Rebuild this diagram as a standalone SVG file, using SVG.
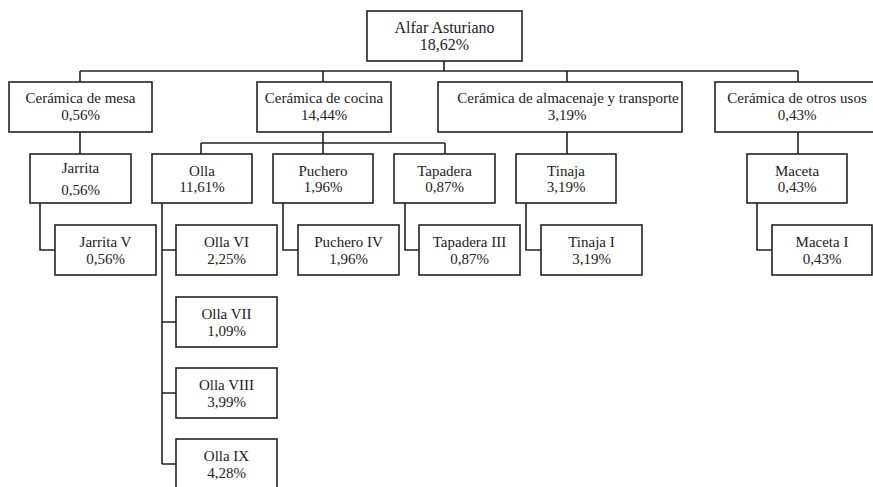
<svg xmlns="http://www.w3.org/2000/svg" width="873" height="487" viewBox="0 0 873 487">
<style>
.b{fill:#fff;stroke:#222;stroke-width:1.6}
.t{font-family:"Liberation Serif","Times New Roman",serif;font-size:15px;fill:#222;text-anchor:middle}
.c{fill:none;stroke:#222;stroke-width:1.6}
</style>
<rect width="873" height="487" fill="#fff"/>
<g id="connectors">
<path class="c" d="M444,61V71M80,71H798M80,71V82M323,71V82M567,71V82M798,71V82"/>
<path class="c" d="M80,132V154M323,132V143M201,143H445M201,143V154M323,143V154M445,143V154M567,132V154M798,132V154"/>
<path class="c" d="M40,203V250H55M162,203V464M162,250H176M162,322H176M162,393H176M162,464H176M283,203V250H298M405,203V250H419M526,203V250H541M757,203V250H772"/>
</g>
<g id="root"><rect class="b" x="367" y="11" width="155" height="50"/><text class="t" x="444.5" y="33" style="font-size:16px">Alfar Asturiano</text><text class="t" x="444.5" y="50" style="font-size:16px">18,62%</text></g>
<g id="mesa"><rect class="b" x="9" y="82" width="143" height="50"/><text class="t" x="80.5" y="103">Cerámica de mesa</text><text class="t" x="80.5" y="120">0,56%</text></g>
<g id="cocina"><rect class="b" x="257" y="82" width="134" height="50"/><text class="t" x="324" y="103">Cerámica de cocina</text><text class="t" x="324" y="120">14,44%</text></g>
<g id="almacenaje"><rect class="b" x="438" y="82" width="244" height="50"/><text class="t" x="568" y="103">Cerámica de almacenaje y transporte</text><text class="t" x="567" y="120">3,19%</text></g>
<g id="otros"><rect class="b" x="715" y="82" width="170" height="50"/><text class="t" x="797" y="103">Cerámica de otros usos</text><text class="t" x="797" y="120">0,43%</text></g>
<g id="jarrita"><rect class="b" x="30" y="154" width="101" height="49"/><text class="t" x="80.5" y="173">Jarrita</text><text class="t" x="80.5" y="195">0,56%</text></g>
<g id="olla"><rect class="b" x="152" y="154" width="100" height="49"/><text class="t" x="202" y="176">Olla</text><text class="t" x="202" y="192">11,61%</text></g>
<g id="puchero"><rect class="b" x="273" y="154" width="100" height="49"/><text class="t" x="323" y="176">Puchero</text><text class="t" x="323" y="192">1,96%</text></g>
<g id="tapadera"><rect class="b" x="394" y="154" width="101" height="49"/><text class="t" x="444.5" y="176">Tapadera</text><text class="t" x="444.5" y="192">0,87%</text></g>
<g id="tinaja"><rect class="b" x="516" y="154" width="100" height="49"/><text class="t" x="566" y="176">Tinaja</text><text class="t" x="566" y="192">3,19%</text></g>
<g id="maceta"><rect class="b" x="747" y="154" width="100" height="49"/><text class="t" x="797" y="176">Maceta</text><text class="t" x="797" y="192">0,43%</text></g>
<g id="jarritaV"><rect class="b" x="55" y="225" width="101" height="50"/><text class="t" x="105.5" y="247">Jarrita V</text><text class="t" x="105.5" y="264">0,56%</text></g>
<g id="ollaVI"><rect class="b" x="176" y="225" width="101" height="50"/><text class="t" x="226.5" y="247">Olla VI</text><text class="t" x="226.5" y="264">2,25%</text></g>
<g id="pucheroIV"><rect class="b" x="298" y="225" width="101" height="50"/><text class="t" x="348.5" y="247">Puchero IV</text><text class="t" x="348.5" y="264">1,96%</text></g>
<g id="tapaderaIII"><rect class="b" x="419" y="225" width="101" height="50"/><text class="t" x="469.5" y="247">Tapadera III</text><text class="t" x="469.5" y="264">0,87%</text></g>
<g id="tinajaI"><rect class="b" x="541" y="225" width="101" height="50"/><text class="t" x="591.5" y="247">Tinaja I</text><text class="t" x="591.5" y="264">3,19%</text></g>
<g id="macetaI"><rect class="b" x="772" y="225" width="100" height="50"/><text class="t" x="822" y="247">Maceta I</text><text class="t" x="822" y="264">0,43%</text></g>
<g id="ollaVII"><rect class="b" x="176" y="297" width="101" height="50"/><text class="t" x="226.5" y="319">Olla VII</text><text class="t" x="226.5" y="336">1,09%</text></g>
<g id="ollaVIII"><rect class="b" x="176" y="368" width="101" height="50"/><text class="t" x="226.5" y="390">Olla VIII</text><text class="t" x="226.5" y="407">3,99%</text></g>
<g id="ollaIX"><rect class="b" x="176" y="439" width="101" height="52"/><text class="t" x="226.5" y="461">Olla IX</text><text class="t" x="226.5" y="478">4,28%</text></g>
</svg>
